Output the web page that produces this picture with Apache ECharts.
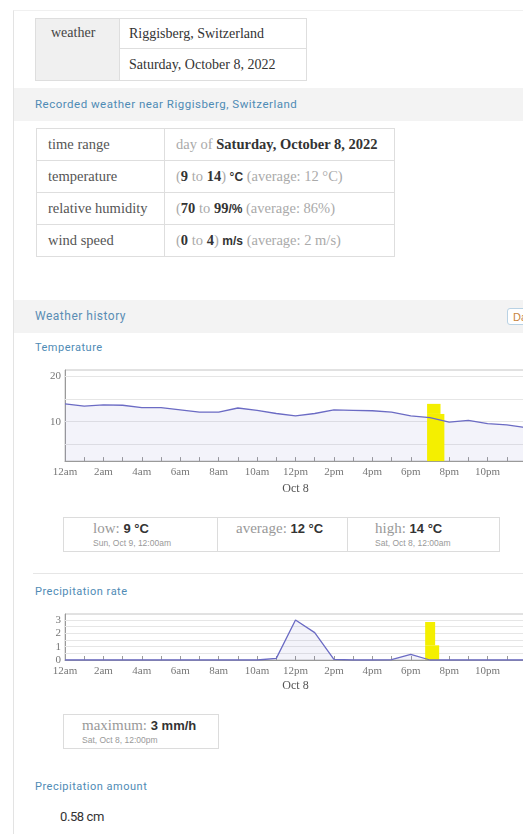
<!DOCTYPE html>
<html>
<head>
<meta charset="utf-8">
<script src="https://cdn.jsdelivr.net/npm/echarts@6/dist/echarts.min.js"></script>
<style>
  html, body { margin: 0; padding: 0; }
  body { width: 523px; height: 834px; overflow: hidden; position: relative; background: #fff; font-family: 'Liberation Serif', serif; }
  .abs { position: absolute; }
  .panel { left: 13px; top: 10px; width: 520px; height: 830px; border-left: 1px solid #e3e3e3; border-top: 1px solid #f0f0f0; }
  .band { left: 14px; width: 520px; height: 33px; background: #f3f3f3; }
  .link { font-family: Roboto, 'Noto Sans', sans-serif; font-size: 11px; color: #4f8bb5; letter-spacing: 0.5px; }
  table { border-collapse: collapse; }
  td { border: 1px solid #dedede; padding: 0 0 0 11px; font-size: 14.5px; color: #333; }
  .lbl { color: #555; background: #fff; }
  .muted { color: #aaa; }
  .b { font-weight: bold; color: #333; }
  .unit { font-family: 'Liberation Sans', sans-serif; font-weight: bold; font-size: 12px; color: #333; }
  .box { border: 1px solid #dcdcdc; display: flex; }
  .cell { border-left: 1px solid #dcdcdc; padding: 2px 0 0 0; }
  .cell:first-child { border-left: none; }
  .big { font-size: 15px; color: #999; line-height: 16px; }
  .big b { font-family: 'Liberation Sans', sans-serif; color: #333; font-size: 13px; }
  .sub { font-family: 'Liberation Sans', sans-serif; font-size: 8.5px; color: #999; line-height: 13px; }
</style>
</head>
<body>
<div class="abs panel"></div>

<table class="abs" style="left:35px; top:18px; width:272px;">
  <tr style="height:30px;">
    <td rowspan="2" style="width:68px; background:#f0f0f0; vertical-align:top; padding-top:6px; padding-left:15px; color:#444; font-size:14px;">weather</td>
    <td style="padding-left:9px; font-size:14px;">Riggisberg, Switzerland</td>
  </tr>
  <tr style="height:32px;">
    <td style="padding-left:9px; font-size:14px;">Saturday, October 8, 2022</td>
  </tr>
</table>

<div class="abs band" style="top:88px;"></div>
<div class="abs link" style="left:35px; top:97px; font-size:11.5px;">Recorded weather near Riggisberg, Switzerland</div>

<table class="abs" style="left:36px; top:128px; width:359px;">
  <tr style="height:32px;"><td class="lbl" style="width:116px;">time range</td><td><span class="muted">day of</span> <span class="b">Saturday, October 8, 2022</span></td></tr>
  <tr style="height:32px;"><td class="lbl">temperature</td><td><span class="muted">(</span><span class="b">9</span> <span class="muted">to</span> <span class="b">14</span><span class="muted">)</span> <span class="unit">°C</span> <span class="muted">(average: 12 °C)</span></td></tr>
  <tr style="height:32px;"><td class="lbl">relative humidity</td><td><span class="muted">(</span><span class="b">70</span> <span class="muted">to</span> <span class="b">99</span><span class="unit">/%</span> <span class="muted">(average: 86%)</span></td></tr>
  <tr style="height:32px;"><td class="lbl">wind speed</td><td><span class="muted">(</span><span class="b">0</span> <span class="muted">to</span> <span class="b">4</span><span class="muted">)</span> <span class="unit">m/s</span> <span class="muted">(average: 2 m/s)</span></td></tr>
</table>

<div class="abs band" style="top:300px;"></div>
<div class="abs link" style="left:35px; top:309px; font-size:12px; color:#5a8db3;">Weather history</div>
<div class="abs" style="left:507px; top:308px; width:40px; height:17px; border:1px solid #b9d2e4; border-radius:3px; background:#fff; font-family:'Liberation Sans',sans-serif; font-size:11px; color:#c8843c; padding-left:5px; box-sizing:border-box; line-height:16px;">Data</div>

<div class="abs link" style="left:35px; top:341px;">Temperature</div>
<div id="tempChart" class="abs" style="left:0; top:350px; width:560px; height:150px;"></div>

<div class="abs box" style="left:63px; top:517px; width:435px; height:33px;">
  <div class="cell" style="width:153px; padding-left:29px; box-sizing:border-box;">
    <div class="big">low: <b>9 °C</b></div>
    <div class="sub">Sun, Oct 9, 12:00am</div>
  </div>
  <div class="cell" style="width:130px; padding-left:18px; box-sizing:border-box;">
    <div class="big">average: <b>12 °C</b></div>
  </div>
  <div class="cell" style="width:152px; padding-left:27px; box-sizing:border-box;">
    <div class="big">high: <b>14 °C</b></div>
    <div class="sub">Sat, Oct 8, 12:00am</div>
  </div>
</div>

<div class="abs" style="left:33px; top:573px; width:500px; height:1px; background:#e6e6e6;"></div>

<div class="abs link" style="left:35px; top:585px;">Precipitation rate</div>
<div id="precipChart" class="abs" style="left:0; top:600px; width:560px; height:100px;"></div>

<div class="abs box" style="left:63px; top:714px; width:154px; height:33px;">
  <div class="cell" style="padding-left:18px;">
    <div class="big">maximum: <b>3 mm/h</b></div>
    <div class="sub">Sat, Oct 8, 12:00pm</div>
  </div>
</div>

<div class="abs link" style="left:35px; top:780px;">Precipitation amount</div>
<div class="abs" style="left:60px; top:809px; font-family:Roboto,sans-serif; font-size:13px; color:#333; letter-spacing:-0.4px;">0.58 cm</div>

<script>
// hours of Oct 8 (0 = 12am, 24 = 12am next day)
const hours = [0, 1, 2, 3, 4, 5, 6, 7, 8, 9, 10, 11, 12, 13, 14, 15, 16, 17, 18, 19, 20, 21, 22, 23, 24]
// temperature in °C
const tempValues = [13.9, 13.4, 13.7, 13.6, 13.1, 13.1, 12.6, 12.1, 12.1, 13.0, 12.5, 11.8, 11.3, 11.8, 12.6, 12.5, 12.4, 12.1, 11.3, 10.9, 9.9, 10.3, 9.6, 9.3, 8.7]
// precipitation rate in mm/h
const precipValues = [0, 0, 0, 0, 0, 0, 0, 0, 0, 0, 0, 0.12, 3.0, 2.05, 0.05, 0, 0, 0.02, 0.42, 0, 0, 0, 0, 0, 0]
// x tick labels, every 2 hours
const hourLabels = ['12am', '2am', '4am', '6am', '8am', '10am', '12pm', '2pm', '4pm', '6pm', '8pm', '10pm']
const dateLabel = 'Oct 8'
const tempTicks = [10, 20]
const tempGrid = [5, 10, 15, 20]
const precipTicks = [0, 1, 2, 3]
const precipGrid = [0.5, 1, 1.5, 2, 2.5, 3]
// yellow marker strokes (hours / values)
const tempMarks = [[18.85, 19.55, 11.7, 13.9], [18.85, 19.75, 0.8, 11.7]]
const precipMarks = [[18.75, 19.27, 1.1, 2.85], [18.75, 19.48, -0.83, 1.1]]

const labelFont = 'Liberation Serif'
const lineColor = '#6b6bc4'
const fillColor = 'rgba(120,120,200,0.12)'
const highlight = '#f4ef00'

function xAxisOpt() {
  return {
    type: 'value',
    min: 0,
    max: 24,
    interval: 1,
    name: dateLabel,
    nameLocation: 'middle',
    nameGap: 20,
    nameTextStyle: { fontFamily: labelFont, fontSize: 12, color: '#555' },
    axisLine: { lineStyle: { color: '#9a9a9a' } },
    axisTick: { inside: true, length: 4, lineStyle: { color: '#9a9a9a' } },
    axisLabel: {
      fontFamily: labelFont, fontSize: 11, color: '#777', margin: 6,
      formatter: v => (v % 2 === 0 && v < 24 ? hourLabels[v / 2] : '')
    },
    splitLine: { show: false }
  }
}

function yAxisOpt(min, max, ticks) {
  return {
    type: 'value',
    min: min,
    max: max,
    axisLine: { show: true, lineStyle: { color: '#9a9a9a' } },
    axisTick: { show: true, inside: true, length: 3, customValues: ticks, lineStyle: { color: '#9a9a9a' } },
    axisLabel: { customValues: ticks, fontFamily: labelFont, fontSize: 11, color: '#777', margin: 4 },
    splitLine: { show: false }
  }
}

function buildSeries(values, grid, marks) {
  const data = hours.map((h, i) => [h, values[i]])
  return [
    {
      // light horizontal grid lines, under everything
      type: 'line', data: [], z: 1, silent: true,
      markLine: {
        z: 1, silent: true, symbol: 'none', label: { show: false },
        lineStyle: { type: 'solid', color: '#e6e6e6', width: 1 },
        data: grid.map(v => ({ yAxis: v }))
      }
    },
    {
      type: 'line', data: data, z: 2, showSymbol: false, silent: true,
      lineStyle: { width: 0 },
      areaStyle: { color: fillColor, origin: 'start' }
    },
    {
      type: 'line', data: [], z: 3, silent: true,
      markArea: {
        z: 3, silent: true,
        itemStyle: { color: highlight },
        data: marks.map(m => [{ xAxis: m[0], yAxis: m[2] }, { xAxis: m[1], yAxis: m[3] }])
      }
    },
    {
      type: 'line', data: data, z: 4, showSymbol: false,
      lineStyle: { color: lineColor, width: 1.3 }
    }
  ]
}

const tempChart = echarts.init(document.getElementById('tempChart'))
tempChart.setOption({
  animation: false,
  grid: { left: 65, top: 20, width: 461, height: 93, show: true, borderColor: '#c4c4c4', borderWidth: 1, backgroundColor: 'transparent' },
  xAxis: xAxisOpt(),
  yAxis: yAxisOpt(1.4, 21.3, tempTicks),
  series: buildSeries(tempValues, tempGrid, tempMarks)
})

const precipChart = echarts.init(document.getElementById('precipChart'))
precipChart.setOption({
  animation: false,
  grid: { left: 65, top: 14, width: 461, height: 46, show: true, borderColor: '#c4c4c4', borderWidth: 1, backgroundColor: 'transparent' },
  xAxis: xAxisOpt(),
  yAxis: yAxisOpt(0, 3.45, precipTicks),
  series: buildSeries(precipValues, precipGrid, precipMarks)
})

window.addEventListener('resize', () => {
  tempChart.resize()
  precipChart.resize()
})
</script>
</body>
</html>
